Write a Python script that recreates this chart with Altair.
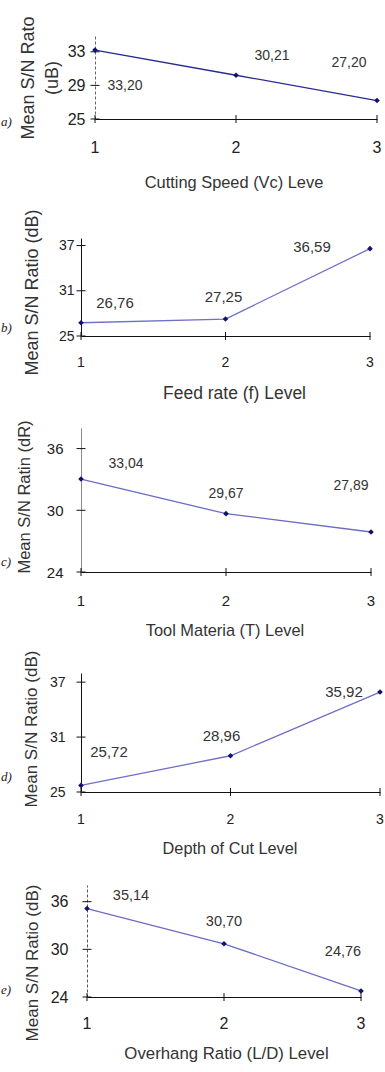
import altair as alt
import pandas as pd

# Factor levels shared by every panel
levels = [1, 2, 3]

# Mean S/N ratio (dB) at each level of each factor
speed_sn = [33.20, 30.21, 27.20]
feed_sn = [26.76, 27.25, 36.59]
tool_sn = [33.04, 29.67, 27.89]
depth_sn = [25.72, 28.96, 35.92]
overhang_sn = [35.14, 30.70, 24.76]

# Y tick values and y domains
speed_ticks = [25, 29, 33]
feed_ticks = [25, 31, 37]
tool_ticks = [24, 30, 36]
depth_ticks = [25, 31, 37]
overhang_ticks = [24, 30, 36]

speed_domain = [25, 35]
feed_domain = [25, 38]
tool_domain = [24, 38]
depth_domain = [25, 38]
overhang_domain = [24, 38.1]

# Panel tags and axis titles
tags = ["a)", "b)", "c)", "d)", "e)"]
x_titles = [
    "Cutting Speed (Vc) Leve",
    "Feed rate (f) Level",
    "Tool Materia  (T) Level",
    "Depth of Cut Level",
    "Overhang Ratio (L/D) Level",
]
y_titles = [
    ["Mean S/N Rato", "(uB)"],
    "Mean S/N Ratio (dB)",
    "Mean S/N Ratin (dR)",
    "Mean S/N Ratio (dB)",
    "Mean S/N Ratio (dB)",
]

FONT = "Liberation Sans"
MARKER = "#12126e"

# Layout of each panel (pixels, in the panel's own coordinates)
LAYOUT = [
    dict(H=119, xr=[14, 296], yr=[119, 35], yoff=-14, line="#2a2a92", ydash=[3, 2], ycol="#666666",
         ytx=-67, yty=77.5, yts=18, xtx=152.5, xty=63, xts=16.4, lab=16, ypad=10, xpad=29,
         txt=14, offs=[(30, 36), (36, -19), (-28, -38)], tag_y=122),
    dict(H=217, xr=[0, 289], yr=[217, 119], yoff=0, line="#7070c8", ydash=[], ycol="#111111",
         ytx=-49, yty=173, yts=18, xtx=153, xty=57, xts=17.5, lab=14, ypad=7, xpad=27,
         txt=15, offs=[(34, -20), (-2, -22), (-58, -2)], tag_y=209),
    dict(H=236, xr=[0, 290], yr=[236, 92], yoff=0, line="#6c6cc4", ydash=[], ycol="#8a8a8a",
         ytx=-57, yty=160.5, yts=16.5, xtx=143.5, xty=58, xts=16.4, lab=15, ypad=18, xpad=29,
         txt=14, offs=[(45, -15), (0, -20), (-20, -46)], tag_y=226),
    dict(H=220, xr=[0, 299], yr=[220, 101], yoff=0, line="#7070c8", ydash=[], ycol="#111111",
         ytx=-50, yty=156.5, yts=17, xtx=148.5, xty=56, xts=16.3, lab=14, ypad=16, xpad=28,
         txt=15, offs=[(28, -33), (-9, -20), (-36, 0)], tag_y=205),
    dict(H=205, xr=[6, 280], yr=[205, 93], yoff=-6, line="#6c6cc4", ydash=[3, 2], ycol="#555555",
         ytx=-55, yty=170.5, yts=17, xtx=145, xty=56, xts=16.8, lab=16, ypad=19, xpad=27,
         txt=14.5, offs=[(44, -13), (0, -22), (-18, -39)], tag_y=198),
]

series = [speed_sn, feed_sn, tool_sn, depth_sn, overhang_sn]
ticks = [speed_ticks, feed_ticks, tool_ticks, depth_ticks, overhang_ticks]
domains = [speed_domain, feed_domain, tool_domain, depth_domain, overhang_domain]


def panel(i):
    lay = LAYOUT[i]
    df = pd.DataFrame({"level": levels, "value": series[i]})
    df["label"] = [f"{v:.2f}".replace(".", ",") for v in series[i]]
    lv_df = pd.DataFrame({"level": levels})

    xs = alt.Scale(domain=[1, 3], range=lay["xr"], nice=False, zero=False)
    ys = alt.Scale(domain=domains[i], range=lay["yr"], nice=False, zero=False)

    # x axis draws the baseline and title; level numbers come from a text layer
    x_axis = alt.Axis(
        values=levels, ticks=False, grid=False, labels=False, domainColor="#111111",
        title=x_titles[i], titleFont=FONT, titleFontSize=lay["xts"], titleFontWeight="normal",
        titleColor="#333333", titleX=lay["xtx"], titleY=lay["xty"], titleBaseline="middle",
        titleAlign="center",
    )
    y_axis_kw = dict(
        values=ticks[i], tickCount=10, ticks=False, grid=False, labelFlush=False,
        labelOverlap=False, labelFont=FONT, labelFontSize=lay["lab"], labelColor="#222222",
        labelPadding=lay["ypad"], domainColor=lay["ycol"], offset=lay["yoff"],
        title=y_titles[i], titleFont=FONT, titleFontSize=lay["yts"], titleFontWeight="normal",
        titleColor="#333333", titleX=lay["ytx"], titleY=lay["yty"], titleBaseline="middle",
        titleAlign="center", titleAngle=270, titleLineHeight=24,
    )
    if lay["ydash"]:
        y_axis_kw["domainDash"] = lay["ydash"]
    y_axis = alt.Axis(**y_axis_kw)

    base = alt.Chart(df)
    line = base.mark_line(color=lay["line"], strokeWidth=1.3).encode(
        x=alt.X("level:Q", scale=xs, axis=x_axis),
        y=alt.Y("value:Q", scale=ys, axis=y_axis),
    )
    pts = base.mark_point(shape="diamond", filled=True, size=32, color=MARKER, opacity=1).encode(
        x="level:Q", y="value:Q"
    )

    # tick marks crossing the axis lines
    xt = alt.Chart(lv_df).mark_tick(
        orient="vertical", size=8, thickness=1, color="#111111", opacity=1
    ).encode(x="level:Q", y=alt.datum(domains[i][0]))
    yt = alt.Chart(pd.DataFrame({"value": ticks[i]})).mark_tick(
        orient="horizontal", size=9, thickness=1, color="#111111", opacity=1
    ).encode(y="value:Q", x=alt.datum(1))

    # level numbers under the x axis
    xl = alt.Chart(lv_df).mark_text(
        font=FONT, fontSize=lay["lab"], color="#222222", align="center", baseline="middle"
    ).encode(
        x="level:Q",
        y=alt.value(lay["yr"][0] + lay["xpad"]),
        text=alt.Text("level:Q", format="d"),
    )

    layers = [line, xt, yt, xl, pts]
    for j, lv in enumerate(levels):
        dx, dy = lay["offs"][j]
        layers.append(
            base.transform_filter(alt.datum.level == lv)
            .mark_text(font=FONT, fontSize=lay["txt"], color="#333333", dx=dx, dy=dy,
                       align="center", baseline="middle")
            .encode(x="level:Q", y="value:Q", text="label:N")
        )

    tag = alt.Chart(pd.DataFrame({"tag": [tags[i]]})).mark_text(
        font="Liberation Serif", fontStyle="italic", fontSize=13, color="#222222",
        align="left", baseline="middle",
    ).encode(x=alt.value(-80), y=alt.value(lay["tag_y"]), text="tag:N")
    layers.append(tag)

    return alt.layer(*layers).properties(width=lay["xr"][1], height=lay["H"])


chart = (
    alt.vconcat(*[panel(i) for i in range(5)], spacing=0, bounds="flush")
    .properties(padding={"left": 1, "top": 0, "right": 0, "bottom": 0})
    .configure_view(stroke=None)
    .configure_axis(labelOverlap=False, labelBound=False)
)

chart.save("out.html", embed_options={"renderer": "svg", "actions": False})
